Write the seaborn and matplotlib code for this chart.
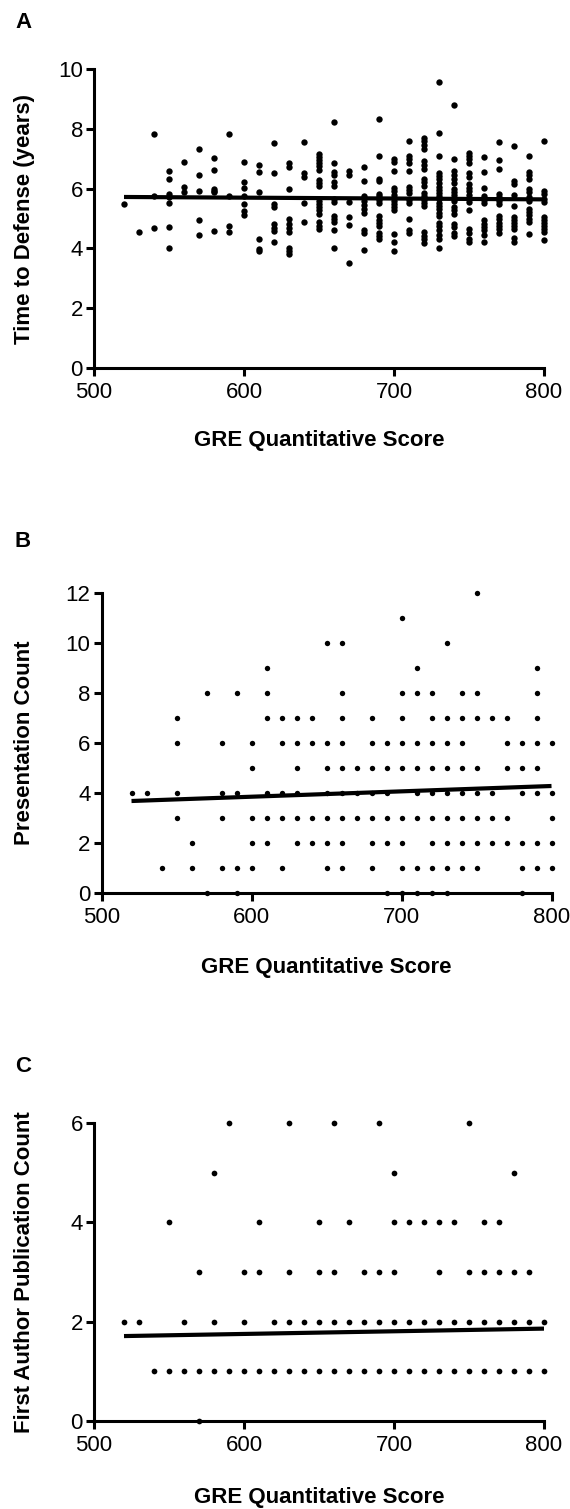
import matplotlib
matplotlib.use("Agg")
import matplotlib.pyplot as plt
import seaborn as sns
import pandas as pd

# ---------------- Panel A: Time to Defense (years) vs GRE Q ----------------
scores_a = [520, 530, 540, 550, 560, 570, 580, 590, 600, 610, 620, 630, 640, 650,
            660, 670, 680, 690, 700, 710, 720, 730, 740, 750, 760, 770, 780, 790, 800]
years_a = [
    [5.48],
    [4.56],
    [7.82, 5.75, 4.69],
    [6.6, 6.32, 5.82, 5.73, 5.53, 4.72, 4.03],
    [6.9, 6.06, 5.88],
    [7.33, 6.45, 5.93, 4.96, 4.45],
    [7.01, 6.62, 6.0, 5.93, 5.88, 4.58],
    [7.82, 5.75, 4.75, 4.55],
    [6.88, 6.22, 6.01, 5.75, 5.5, 5.25, 5.12],
    [6.79, 6.57, 5.89, 4.3, 3.98, 3.9],
    [7.54, 6.51, 5.5, 5.38, 4.8, 4.68, 4.58, 4.2],
    [6.85, 6.73, 5.99, 4.97, 4.82, 4.69, 4.56, 4.02, 3.9, 3.81],
    [7.55, 6.53, 6.4, 5.53, 4.88],
    [7.15, 7.05, 6.95, 6.85, 6.74, 6.63, 6.3, 6.2, 6.1, 5.6, 5.5, 5.38, 5.27, 5.16, 4.88, 4.76, 4.66],
    [8.23, 6.86, 6.55, 6.44, 6.21, 6.08, 5.65, 5.54, 5.1, 4.99, 4.88, 4.6, 4.0],
    [6.58, 6.44, 5.56, 5.05, 4.79, 3.51],
    [6.72, 6.24, 5.74, 5.57, 5.44, 5.32, 5.18, 4.62, 4.52, 3.96],
    [8.34, 7.1, 6.33, 6.24, 5.83, 5.74, 5.63, 5.52, 5.09, 4.96, 4.85, 4.74, 4.52, 4.41, 4.31],
    [6.99, 6.88, 6.58, 6.02, 5.91, 5.8, 5.68, 5.58, 5.48, 5.38, 5.27, 4.49, 4.22, 3.92],
    [7.6, 7.08, 6.98, 6.86, 6.6, 6.04, 5.95, 5.86, 5.63, 5.52, 5.0, 4.62, 4.52],
    [7.7, 7.58, 7.45, 7.33, 6.91, 6.79, 6.64, 6.32, 6.21, 6.09, 5.85, 5.74, 5.63, 5.52, 5.42,
     4.54, 4.43, 4.3, 4.17],
    [9.55, 7.85, 7.1, 6.53, 6.42, 6.31, 6.2, 6.05, 5.95, 5.86, 5.75, 5.64, 5.53, 5.42, 5.31,
     5.19, 5.08, 4.86, 4.75, 4.6, 4.45, 4.3, 4.0],
    [8.81, 6.98, 6.58, 6.47, 6.33, 6.2, 6.0, 5.9, 5.8, 5.68, 5.57, 5.38, 5.27, 5.16, 4.82, 4.72, 4.5, 4.4],
    [7.2, 7.1, 6.98, 6.87, 6.51, 6.38, 6.15, 6.02, 5.91, 5.8, 5.66, 5.55, 5.28, 4.64, 4.53, 4.32, 4.22],
    [7.07, 6.55, 6.01, 5.74, 5.63, 5.52, 4.94, 4.83, 4.72, 4.61, 4.46, 4.2],
    [7.57, 6.96, 6.66, 5.82, 5.72, 5.6, 5.5, 5.08, 4.97, 4.86, 4.75, 4.64, 4.53],
    [7.44, 6.25, 6.14, 5.78, 5.43, 5.05, 4.95, 4.85, 4.74, 4.64, 4.36, 4.23],
    [7.1, 6.55, 6.44, 6.33, 6.0, 5.89, 5.72, 5.6, 5.33, 5.22, 5.11, 5.0, 4.88, 4.48],
    [7.58, 5.93, 5.83, 5.65, 5.55, 5.05, 4.95, 4.85, 4.75, 4.65, 4.54, 4.28],
]

# ---------------- Panel B: Presentation Count (rows by count) ----------------
pres_levels = [12, 11, 10, 9, 8, 7, 6, 5, 4, 3, 2, 1, 0]
pres_scores = [
    [750],
    [700],
    [650, 660, 730],
    [610, 710, 790],
    [570, 590, 610, 660, 700, 710, 720, 740, 750, 790],
    [550, 610, 620, 630, 640, 660, 680, 700, 720, 730, 740, 750, 760, 770, 790],
    [550, 580, 600, 620, 630, 640, 650, 660, 680, 690, 700, 710, 720, 730, 740, 770, 780, 790, 800],
    [600, 630, 650, 660, 670, 680, 690, 700, 710, 720, 730, 740, 750, 770, 780, 790],
    [520, 530, 550, 580, 590, 610, 620, 630, 650, 660, 670, 680, 690, 710, 720, 730, 740, 750,
     760, 780, 790, 800],
    [550, 580, 600, 610, 620, 630, 640, 650, 660, 670, 680, 690, 700, 710, 720, 730, 740, 750,
     760, 770, 800],
    [560, 600, 610, 630, 640, 650, 660, 680, 690, 700, 720, 730, 740, 750, 760, 770, 780, 790, 800],
    [540, 560, 580, 590, 600, 620, 650, 660, 680, 700, 710, 720, 730, 740, 750, 780, 790, 800],
    [570, 590, 690, 700, 710, 720, 730, 780],
]

# ---------------- Panel C: First Author Publication Count ----------------
pub_levels = [6, 5, 4, 3, 2, 1, 0]
pub_scores = [
    [590, 630, 660, 690, 750],
    [580, 700, 780],
    [550, 610, 650, 670, 700, 710, 720, 730, 740, 760, 770],
    [570, 600, 610, 630, 650, 660, 680, 690, 700, 730, 750, 760, 770, 780, 790],
    [520, 530, 560, 580, 600, 620, 630, 640, 650, 660, 670, 680, 690, 700, 710, 720, 730,
     740, 750, 760, 770, 780, 790, 800],
    [540, 550, 560, 570, 580, 590, 600, 610, 620, 630, 640, 650, 660, 670, 680, 690, 700,
     710, 720, 730, 740, 750, 760, 770, 780, 790, 800],
    [570],
]

# Regression line end points
fit_x = [520, 800]
fit_a = [5.72, 5.64]
fit_b = [3.68, 4.28]
fit_c = [1.71, 1.86]

x_ticks = [500, 600, 700, 800]
xlabel = "GRE Quantitative Score"

# ---------------- build tables ----------------
df_a = pd.DataFrame([(s, v) for s, vals in zip(scores_a, years_a) for v in vals],
                    columns=["gre", "val"])
df_b = pd.DataFrame([(s, lv) for lv, ss in zip(pres_levels, pres_scores) for s in ss],
                    columns=["gre", "val"])
df_c = pd.DataFrame([(s, lv) for lv, ss in zip(pub_levels, pub_scores) for s in ss],
                    columns=["gre", "val"])

sns.set_theme(style="ticks")
plt.rcParams['font.family'] = ['Liberation Sans', 'DejaVu Sans']

W, H = 570, 1509
fig = plt.figure(figsize=(W / 100, H / 100), dpi=100)
fig.patch.set_facecolor("white")


def make_axes(left, right, top, bottom):
    return fig.add_axes([left / W, 1 - bottom / H, (right - left) / W, (bottom - top) / H])


axA = make_axes(94, 544, 69, 368)
axB = make_axes(101.5, 551.5, 593, 893)
axC = make_axes(94, 544, 1123, 1421)

panels = [
    (axA, df_a, fit_a, (0, 10), [0, 2, 4, 6, 8, 10], "Time to Defense (years)", 21, -0.155, -0.242),
    (axB, df_b, fit_b, (0, 12), [0, 2, 4, 6, 8, 10, 12], "Presentation Count", 15, -0.172, -0.247),
    (axC, df_c, fit_c, (0, 6), [0, 2, 4, 6], "First Author Publication Count", 17, -0.155, -0.258),
]

for ax, df, fit, ylim, yt, ylab, msize, ylab_x, xlab_y in panels:
    ax.set_facecolor("white")
    sns.scatterplot(data=df, x="gre", y="val", ax=ax, color="black", s=msize,
                    linewidth=0, clip_on=False, legend=False, zorder=3)
    sns.lineplot(x=fit_x, y=fit, ax=ax, color="black", linewidth=3, zorder=4,
                 solid_capstyle="butt")
    ax.set_xlim(500, 800)
    ax.set_ylim(*ylim)
    ax.set_xticks(x_ticks)
    ax.set_yticks(yt)
    for s in ["top", "right"]:
        ax.spines[s].set_visible(False)
    for s in ["left", "bottom"]:
        ax.spines[s].set_linewidth(2.2)
        ax.spines[s].set_color("black")
    ax.tick_params(axis="both", direction="out", length=6, width=2.2, labelsize=16,
                   colors="black")
    ax.tick_params(axis="x", pad=4)
    ax.tick_params(axis="y", pad=2)
    ax.set_xlabel(xlabel, fontsize=16, fontweight="bold", va="center", color="black")
    ax.xaxis.set_label_coords(0.5, xlab_y)
    ax.set_ylabel(ylab, fontsize=16, fontweight="bold", va="center", color="black")
    ax.yaxis.set_label_coords(ylab_x, 0.5)
    ax.grid(False)

for letter, ypix in [("A", 22), ("B", 542), ("C", 1067)]:
    fig.text(15 / W, 1 - ypix / H, letter, fontsize=16, fontweight="bold",
             ha="left", va="center", color="black")

fig.savefig("out.png", dpi=100, facecolor="white")
